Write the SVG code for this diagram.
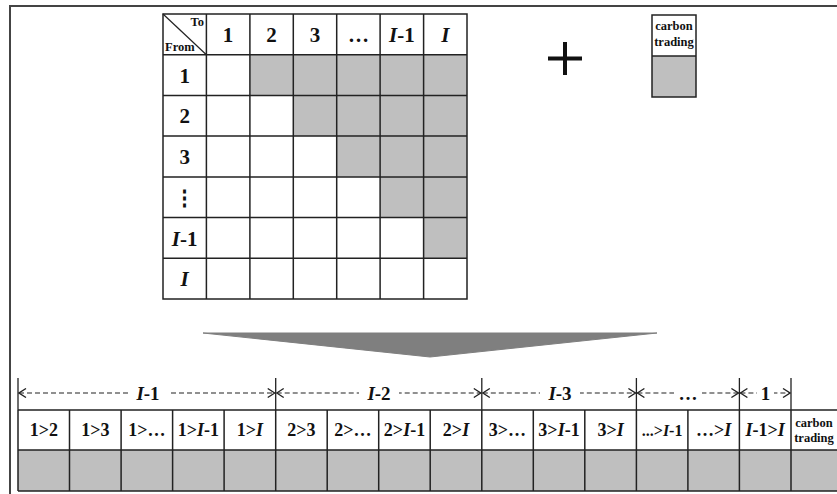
<svg xmlns="http://www.w3.org/2000/svg" width="837" height="494" viewBox="0 0 837 494">
<defs>
<style>
.t{font-family:"Liberation Serif","Times New Roman",serif;font-weight:bold;fill:#111;text-anchor:middle;}
.h{font-size:21px;}
.b{font-size:18px;}
.d{font-size:19px;}
.s{font-size:12.5px;}
.grid{stroke:#222;stroke-width:1.5;fill:none;}
.sh{fill:#bfbfbf;}
.dim{stroke:#222;stroke-width:1.2;stroke-dasharray:5 3;fill:none;marker-start:url(#ch);marker-end:url(#ch);}
.tick{stroke:#222;stroke-width:1.3;}
</style>
<marker id="ch" viewBox="-9 -5 10 10" markerWidth="10" markerHeight="10" refX="0" refY="0" orient="auto-start-reverse" markerUnits="userSpaceOnUse">
<path d="M-7,-4.5 L0,0 L-7,4.5" fill="none" stroke="#222" stroke-width="1.3"/>
</marker>
</defs>
<rect width="837" height="494" fill="#fff"/>
<rect x="10" y="6" width="840" height="500" fill="none" stroke="#444" stroke-width="2"/>

<g id="matrix">
<g class="sh">
<rect x="249.9" y="54.7" width="217.1" height="40.7"/>
<rect x="293.3" y="95.4" width="173.7" height="40.7"/>
<rect x="336.7" y="136.1" width="130.3" height="40.7"/>
<rect x="380.1" y="176.9" width="86.9" height="40.7"/>
<rect x="423.6" y="217.6" width="43.4" height="40.7"/>
</g>
<g class="grid">
<rect x="163" y="14" width="304" height="285"/>
<path d="M206.4,14V299M249.9,14V299M293.3,14V299M336.7,14V299M380.1,14V299M423.6,14V299"/>
<path d="M163,54.7H467M163,95.4H467M163,136.1H467M163,176.9H467M163,217.6H467M163,258.3H467"/>
<path d="M163,14L206.4,54.7" stroke-width="1.2"/>
</g>
<text class="t s" x="204" y="26" style="text-anchor:end">To</text>
<text class="t s" x="165" y="51" style="text-anchor:start">From</text>
<g class="t h">
<text x="228.1" y="42">1</text>
<text x="271.6" y="42">2</text>
<text x="315" y="42">3</text>
<text x="358.4" y="42">…</text>
<text x="401.8" y="42"><tspan font-style="italic">I</tspan>-1</text>
<text x="445.3" y="42" font-style="italic">I</text>
<text x="184.7" y="82.5">1</text>
<text x="184.7" y="123">2</text>
<text x="184.7" y="164">3</text>
<text x="184.7" y="205">⋮</text>
<text x="184.7" y="245.5"><tspan font-style="italic">I</tspan>-1</text>
<text x="184.7" y="286" font-style="italic">I</text>
</g>
</g>

<g id="plus">
<path d="M548,58.5H582M565,42V75" stroke="#111" stroke-width="4"/>
</g>

<g id="carbon">
<rect x="652" y="56" width="44" height="41" class="sh"/>
<rect x="652" y="15" width="44" height="82" class="grid"/>
<path d="M652,56H696" class="grid"/>
<text class="t s" x="674" y="30">carbon</text>
<text class="t s" x="674" y="46">trading</text>
</g>

<g id="arrow">
<path d="M203,333H657L430,357Z" fill="#7f7f7f" stroke="#7f7f7f" stroke-width="1" stroke-linejoin="round"/>
</g>

<g id="vector">
<rect x="18" y="450" width="830" height="41" class="sh"/>
<g class="grid">
<path d="M18,410H837M18,450H837M18,491H837"/>
<path d="M18,410V491M69.5,410V491M121.1,410V491M172.6,410V491M224.1,410V491M275.7,410V491M327.2,410V491M378.7,410V491M430.2,410V491M481.8,410V491M533.3,410V491M584.8,410V491M636.4,410V491M687.9,410V491M739.4,410V491M791,410V491"/>
</g>
<g class="t b">
<text x="43.8" y="436">1&gt;2</text>
<text x="95.3" y="436">1&gt;3</text>
<text x="146.8" y="436">1&gt;…</text>
<text x="198.4" y="436">1&gt;<tspan font-style="italic">I</tspan>-1</text>
<text x="249.9" y="436">1&gt;<tspan font-style="italic">I</tspan></text>
<text x="301.4" y="436">2&gt;3</text>
<text x="353" y="436">2&gt;…</text>
<text x="404.5" y="436">2&gt;<tspan font-style="italic">I</tspan>-1</text>
<text x="456" y="436">2&gt;<tspan font-style="italic">I</tspan></text>
<text x="507.5" y="436">3&gt;…</text>
<text x="559" y="436">3&gt;<tspan font-style="italic">I</tspan>-1</text>
<text x="610.6" y="436">3&gt;<tspan font-style="italic">I</tspan></text>
<text x="662.1" y="436" style="font-size:16px">...&gt;<tspan font-style="italic">I</tspan>-1</text>
<text x="713.7" y="436">…&gt;<tspan font-style="italic">I</tspan></text>
<text x="765.2" y="436"><tspan font-style="italic">I</tspan>-1&gt;<tspan font-style="italic">I</tspan></text>
</g>
<text class="t s" x="814" y="427">carbon</text>
<text class="t s" x="814" y="442">trading</text>
</g>

<g id="dimensions">
<path class="tick" d="M18,378V410M275.7,378V410M481.8,378V410M636.4,378V410M739.4,378V410M791,378V410"/>
<path class="dim" d="M19,393H274.7"/>
<path class="dim" d="M276.7,393H480.8"/>
<path class="dim" d="M482.8,393H635.4"/>
<path class="dim" d="M637.4,393H738.4"/>
<path class="dim" d="M740.4,393H790"/>
<g fill="#fff">
<rect x="128" y="384" width="40" height="18"/>
<rect x="359" y="384" width="40" height="18"/>
<rect x="540" y="384" width="40" height="18"/>
<rect x="674" y="384" width="28" height="18"/>
<rect x="757" y="384" width="17" height="18"/>
</g>
<g class="t d">
<text x="148" y="400"><tspan font-style="italic">I</tspan>-1</text>
<text x="379" y="400"><tspan font-style="italic">I</tspan>-2</text>
<text x="560" y="400"><tspan font-style="italic">I</tspan>-3</text>
<text x="688" y="400">…</text>
<text x="765.5" y="400">1</text>
</g>
</g>
</svg>
